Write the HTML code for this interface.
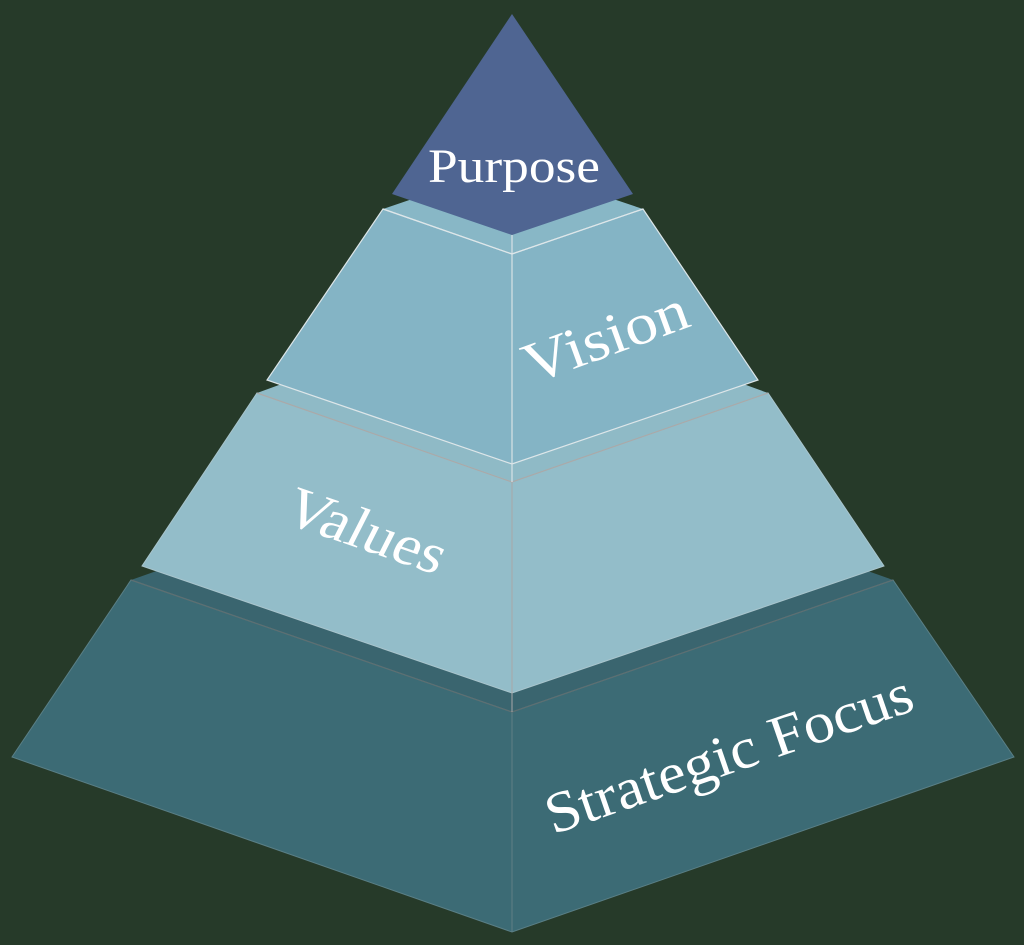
<!DOCTYPE html>
<html><head><style>html,body{margin:0;padding:0;background:#263a29;}svg{display:block}</style></head><body>
<svg width="1024" height="945" viewBox="0 0 1024 945" xmlns="http://www.w3.org/2000/svg" font-family="'Liberation Serif', serif" fill="#fff">
<rect width="1024" height="945" fill="#263a29"/>
<polygon points="131,580 512,445 893,580 512,712" fill="#3a656f"/>
<polygon points="131,580 512,712 893,580 1014,757 512,932 12,757" fill="#3c6b75" stroke="#5a7f86" stroke-width="1"/>
<line x1="512" y1="712" x2="512" y2="932" stroke="#5f7f85" stroke-width="1"/>
<polyline points="131,580 512,712 893,580" fill="none" stroke="#5d6f72" stroke-width="1.2"/>
<polygon points="257,393 512,300 768,393 512,482" fill="#8fbac6"/>
<polygon points="257,393 512,482 768,393 884,566 512,693 142,566" fill="#93bdc9" stroke="#a9c5cd" stroke-width="1"/>
<line x1="512" y1="482" x2="512" y2="712" stroke="#a8a8a8" stroke-width="1"/>
<polyline points="257,393 512,482 768,393" fill="none" stroke="#a9a9a9" stroke-width="1.2"/>
<polygon points="383,209 512,165 643,209 512,254" fill="#88b7c6"/>
<polygon points="383,209 512,254 643,209 758,380 512,464 267,380" fill="#84b4c5" stroke="#dde6e9" stroke-width="1.2"/>
<line x1="512" y1="235" x2="512" y2="482" stroke="#d8e2e6" stroke-width="1.2"/>
<polyline points="383,209 512,254 643,209" fill="none" stroke="#dde6e9" stroke-width="1.2"/>
<polygon points="512,14 633,194 512,235 392,194" fill="#4f6592"/>
<text x="514" y="182" font-size="48" text-anchor="middle" textLength="172" lengthAdjust="spacingAndGlyphs">Purpose</text>
<text x="0" y="0" font-size="58" text-anchor="middle" textLength="172" lengthAdjust="spacingAndGlyphs" transform="translate(612,355) rotate(-20)">Vision</text>
<text x="0" y="0" font-size="58" text-anchor="middle" textLength="165" lengthAdjust="spacingAndGlyphs" transform="translate(358,548) rotate(19) skewX(-8)">Values</text>
<text x="0" y="0" font-size="58" text-anchor="middle" textLength="385" lengthAdjust="spacingAndGlyphs" transform="translate(735,772) rotate(-19)">Strategic Focus</text>
</svg>
</body></html>
